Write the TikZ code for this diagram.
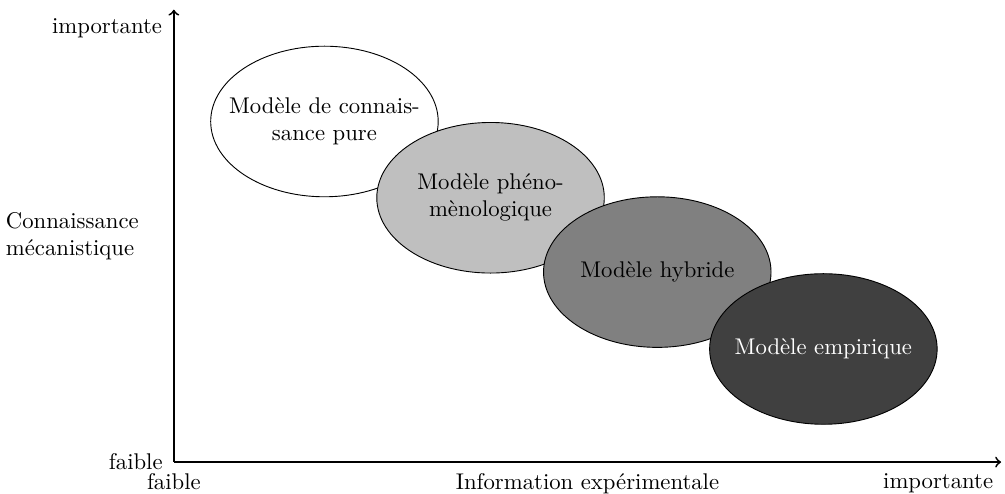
\documentclass[tikz,border=0pt]{standalone}
\usepackage{xcolor}
\usepackage{tikz}
\usetikzlibrary{arrows,
                positioning,
                shapes}
\tikzstyle{axe} = [thick,->]
\tikzstyle{modele} = [ellipse, draw, minimum width=3.52cm, minimum height=2.33cm, inner sep=0pt]
\tikzstyle{texte} = [align=center]

\begin{document}
\begin{tikzpicture}
    \useasboundingbox (-2.69,-0.48) rectangle (12.86,7.15);

    \coordinate (orig) at (0,0);
    \coordinate (yhaut) at (0,7);
    \coordinate (xdroite) at (12.8,0);
    \draw [axe] (orig) -- (yhaut);
    \draw [axe] (orig) -- (xdroite);

    \node[anchor=east] (yimp) at (-0.06,6.72) {importante};
    \node[anchor=east] (yfai) at (-0.05,0) {faible};
    \node[anchor=east, align=left] (ylab) at (-0.42,3.5) {Connaissance\\m\'ecanistique};
    \node[anchor=north] (xfai) at (0,-0.05) {faible};
    \node[anchor=north] (xlab) at (6.4,-0.05) {Information exp\'erimentale};
    \node[anchor=north east] (ximp) at (12.8,-0.05) {importante};

    \node[modele, fill=white] (m1) at (2.33,5.27) {};
    \node[texte] (t1) at (m1) {Mod\`ele de connais-\\sance pure};
    \node[modele, fill=gray!50] (m2) at (4.9,4.09) {};
    \node[texte] (t2) at (m2) {Mod\`ele ph\'eno-\\m\`enologique};
    \node[modele, fill=gray] (m3) at (7.48,2.94) {};
    \node[texte] (t3) at (m3) {Mod\`ele hybride};
    \node[modele, fill=darkgray] (m4) at (10.05,1.75) {};
    \node[texte, text=white] (t4) at (m4) {Mod\`ele empirique};
\end{tikzpicture}
\end{document}
